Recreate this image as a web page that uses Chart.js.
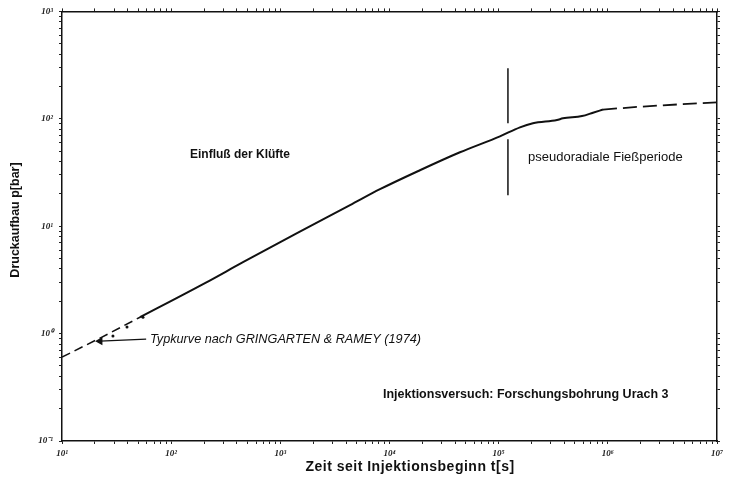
<!DOCTYPE html>
<html>
<head>
<meta charset="utf-8">
<script src="https://cdn.jsdelivr.net/npm/chart.js@4.4.0/dist/chart.umd.min.js"></script>
<style>
    html, body { margin: 0; padding: 0; background: #fff; }
    #wrap { width: 736px; height: 486px; }
</style>
</head>
<body>
<div id="wrap"><canvas id="druck-chart" width="736" height="486"></canvas></div>
<script>
// Werte: Zeit [s] / Druckaufbau [bar]
var typkurveZeit = [10, 22.3, 51.8];
var typkurveDruck = [0.604, 0.908, 1.42];

var messZeit = [29.3, 39.4, 55.2];
var messDruck = [0.949, 1.15, 1.42];

var kurveZeit = [51.8, 204, 455, 1422, 4350, 8180, 19000, 44200, 102800, 156700, 206000, 342000, 388000, 580000, 731000, 903000];
var kurveDruck = [1.42, 2.95, 4.62, 8.61, 15.7, 22.1, 33.2, 48.8, 68.7, 83.3, 90.8, 97.5, 101, 106, 114, 122];

var endeZeit = [903000, 1970000, 4580000, 10000000];
var endeDruck = [122, 129.5, 136.5, 142];

var grenzeZeit = 121600;
var grenzeOben = [295, 90.8];
var grenzeUnten = [64.4, 19.4];

var pfeilZeit = [22.3, 59];
var pfeilDruck = [0.85, 0.89];

var xDekaden = [1e1, 1e2, 1e3, 1e4, 1e5, 1e6, 1e7];
var yDekaden = [0.1, 1, 10, 100, 1000];

var hoch = { '-': '\u207B', '0': '\u2070', '1': '\u00B9', '2': '\u00B2', '3': '\u00B3', '4': '\u2074', '5': '\u2075', '6': '\u2076', '7': '\u2077' };

function punkte(xs, ys) {
    var out = [];
    for (var i = 0; i < xs.length; i++) {
        out.push({ x: xs[i], y: ys[i] });
    }
    return out;
}

function logTicks(dekaden) {
    return function(scale) {
        var t = [];
        for (var i = 0; i < dekaden.length - 1; i++) {
            for (var m = 1; m < 10; m++) {
                t.push({ value: dekaden[i] * m, major: m === 1 });
            }
        }
        t.push({ value: dekaden[dekaden.length - 1], major: true });
        scale.ticks = t;
    };
}

function zehnerLabel(value) {
    var e = Math.log10(value);
    if (Math.abs(e - Math.round(e)) > 1e-6) return '';
    var s = String(Math.round(e)).split('').map(function(c) { return hoch[c]; }).join('');
    return '10' + s;
}

var tickFont = { family: 'Liberation Serif', size: 9, style: 'italic', weight: 'bold' };

function achse(pos, dekaden, groesse, labels) {
    return {
        type: 'logarithmic',
        position: pos,
        min: dekaden[0],
        max: dekaden[dekaden.length - 1],
        afterBuildTicks: logTicks(dekaden),
        afterFit: function(scale) {
            if (pos === 'left' || pos === 'right') scale.width = groesse;
            else scale.height = groesse;
        },
        grid: { drawOnChartArea: false, tickLength: 3, color: '#222', lineWidth: 1 },
        border: { color: '#111', width: 1.5 },
        ticks: {
            display: labels,
            autoSkip: false,
            maxRotation: 0,
            padding: pos === 'left' ? 6 : 4,
            color: '#222',
            font: tickFont,
            callback: zehnerLabel
        }
    };
}

var textPlugin = {
    id: 'beschriftung',
    afterDraw: function(chart) {
        var ctx = chart.ctx;
        ctx.save();
        ctx.fillStyle = '#111';
        ctx.textBaseline = 'middle';
        ctx.textAlign = 'left';

        ctx.font = 'bold 12px "Liberation Sans"';
        ctx.fillText('Einfluß der Klüfte', 190, 155);

        ctx.font = '13px "Liberation Sans"';
        ctx.fillText('pseudoradiale Fießperiode', 528, 157);

        ctx.font = 'bold 12.5px "Liberation Sans"';
        ctx.fillText('Injektionsversuch: Forschungsbohrung Urach 3', 383, 395);

        ctx.font = 'italic 12.7px "Liberation Sans"';
        ctx.fillText('Typkurve nach GRINGARTEN & RAMEY (1974)', 150, 339);

        ctx.font = 'bold 14px "Liberation Sans"';
        ctx.letterSpacing = '0.5px';
        ctx.textAlign = 'center';
        ctx.fillText('Zeit seit Injektionsbeginn t[s]', 410, 467);

        ctx.letterSpacing = '0px';
        ctx.font = 'bold 12.5px "Liberation Sans"';
        ctx.translate(16, 220);
        ctx.rotate(-Math.PI / 2);
        ctx.fillText('Druckaufbau p[bar]', 0, 0);
        ctx.restore();
    }
};

var ctx = document.getElementById('druck-chart');

var druckChart = new Chart(ctx, {
    type: 'line',
    data: {
        datasets: [
            {
                label: 'Messkurve',
                data: punkte(kurveZeit, kurveDruck),
                borderColor: '#111',
                borderWidth: 2,
                pointRadius: 0,
                cubicInterpolationMode: 'monotone'
            },
            {
                label: 'Typkurve Anfang',
                data: punkte(typkurveZeit, typkurveDruck),
                borderColor: '#111',
                borderWidth: 1.6,
                borderDash: [9, 5],
                pointRadius: 0
            },
            {
                label: 'Typkurve Ende',
                data: punkte(endeZeit, endeDruck),
                borderColor: '#111',
                borderWidth: 1.8,
                borderDash: [14, 6],
                pointRadius: 0
            },
            {
                label: 'Messpunkte',
                data: punkte(messZeit, messDruck),
                showLine: false,
                pointRadius: 1.5,
                pointBackgroundColor: '#111',
                pointBorderWidth: 0
            },
            {
                label: 'Grenze oben',
                data: punkte([grenzeZeit, grenzeZeit], grenzeOben),
                borderColor: '#111',
                borderWidth: 1.5,
                pointRadius: 0
            },
            {
                label: 'Grenze unten',
                data: punkte([grenzeZeit, grenzeZeit], grenzeUnten),
                borderColor: '#111',
                borderWidth: 1.5,
                pointRadius: 0
            },
            {
                label: 'Pfeil',
                data: punkte(pfeilZeit, pfeilDruck),
                borderColor: '#111',
                borderWidth: 1.3,
                pointStyle: 'triangle',
                pointRadius: [3.5, 0],
                pointRotation: -90,
                pointBackgroundColor: '#111',
                pointBorderColor: '#111'
            }
        ]
    },
    options: {
        responsive: false,
        animation: false,
        devicePixelRatio: 1,
        layout: { padding: 0 },
        plugins: {
            legend: { display: false },
            tooltip: { enabled: false }
        },
        scales: {
            x: achse('bottom', xDekaden, 45, true),
            x2: achse('top', xDekaden, 11, false),
            y: achse('left', yDekaden, 62, true),
            y2: achse('right', yDekaden, 19, false)
        }
    },
    plugins: [textPlugin]
});
</script>
</body>
</html>
